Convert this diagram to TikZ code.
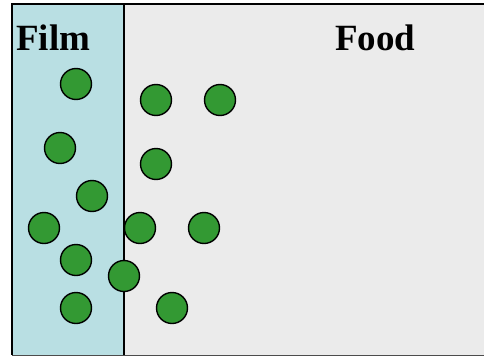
\documentclass[tikz,border=0pt]{standalone}
\usepackage{fontspec}
\setmainfont{Liberation Serif}
\definecolor{filmblue}{HTML}{B9DFE3}
\definecolor{foodgray}{HTML}{EBEBEB}
\definecolor{dotgreen}{HTML}{339933}
\begin{document}
\begin{tikzpicture}[x=1pt,y=-1pt,
  particle/.style={circle,draw=black,line width=1.4pt,fill=dotgreen,minimum size=31pt,inner sep=0pt},
  label/.style={anchor=base west,inner sep=0pt,font=\fontsize{37}{40}\selectfont\bfseries}]
\useasboundingbox (0,0) rectangle (484,356);
\fill[white] (0,0) rectangle (484,356);
\fill[foodgray] (124,4) rectangle (484,355);
\fill[filmblue] (12,4) rectangle (124,355);
\draw[line width=1.5pt] (484,4) -- (12,4) -- (12,355);
\draw[line width=1pt,black!70] (12,355) -- (484,355);
\draw[line width=1.5pt] (124,4) -- (124,355);
\node[label] (film) at (16,50) {Film};
\node[label] (food) at (335,50) {Food};
\node[particle] (p1) at (76,84) {};
\node[particle] (p2) at (156,100) {};
\node[particle] (p3) at (220,100) {};
\node[particle] (p4) at (60,148) {};
\node[particle] (p5) at (156,164) {};
\node[particle] (p6) at (92,196) {};
\node[particle] (p7) at (44,228) {};
\node[particle] (p8) at (140,228) {};
\node[particle] (p9) at (204,228) {};
\node[particle] (p10) at (76,260) {};
\node[particle] (p11) at (124,276) {};
\node[particle] (p12) at (76,308) {};
\node[particle] (p13) at (172,308) {};
\end{tikzpicture}
\end{document}
